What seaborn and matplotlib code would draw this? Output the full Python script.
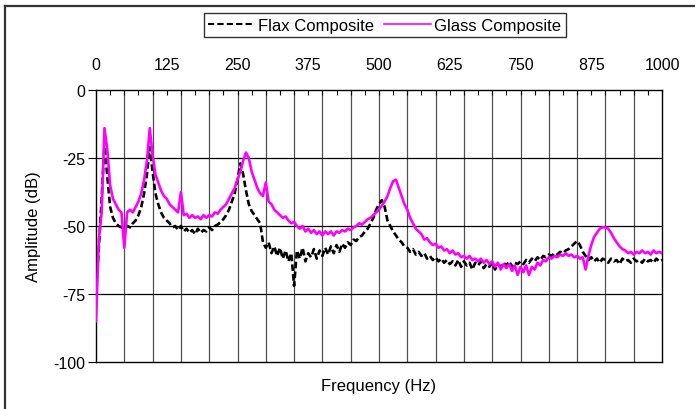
import numpy as np
import pandas as pd
import matplotlib
matplotlib.use("Agg")
import matplotlib.pyplot as plt
import seaborn as sns
from matplotlib.lines import Line2D

plt.rcParams['font.family'] = ['Liberation Sans', 'DejaVu Sans']
plt.rcParams['axes.unicode_minus'] = False

# ---------------- data ----------------
freq = np.arange(0, 1001, 5)  # Hz, sampling grid of the read-off spectra

flax = [
    -74, -58, -40, -19, -32, -43, -47, -49, -50, -50.5,          # 0-45
    -51, -50, -50.5, -49, -48, -46, -43, -38, -31, -21,          # 50-95
    -30, -38, -42, -45, -47, -48, -49, -50.5, -50, -51.5,        # 100-145
    -50, -52, -51, -52.5, -51.5, -53, -51, -52.5, -51.5, -52,    # 150-195
    -50.5, -51.5, -50, -49.5, -48.5, -47.5, -46, -44, -41, -38,  # 200-245
    -33, -27, -31, -37, -42, -44.5, -46, -47.5, -49, -56,        # 250-295
    -58, -56, -60, -57.5, -61, -58, -62, -59, -63, -60,          # 300-345
    -72, -59, -62, -58, -63, -60, -61.5, -58.5, -62, -59,        # 350-395
    -61, -58, -60.5, -57.5, -60, -57, -59.5, -56.5, -58, -56,    # 400-445
    -57, -55, -55.5, -54, -53.5, -52, -51, -49, -47, -44,        # 450-495
    -42, -40.5, -43, -48, -50, -52, -53.5, -55, -56, -57.5,      # 500-545
    -58, -59.5, -58.5, -60.5, -59.5, -61, -60, -62, -61, -62.5,  # 550-595
    -61.5, -63, -62, -63.5, -62.5, -64, -63, -64.5, -62.5, -65,  # 600-645
    -63, -64.5, -63.5, -66, -63.5, -64.5, -63, -65.5, -64, -65,  # 650-695
    -63.5, -66, -64, -65, -63.5, -64.5, -63, -65, -63.5, -64,    # 700-745
    -63, -64, -62.5, -63.5, -62, -63, -61.5, -62.5, -61, -61.5,  # 750-795
    -60.5, -61, -60, -60.5, -59.5, -60, -59, -58.5, -57.5, -56.5,  # 800-845
    -55.5, -57, -59.5, -61, -62.5, -61.5, -63, -62, -63.5, -62,  # 850-895
    -62.5, -63.5, -62, -63, -62.5, -64, -62, -63, -62.5, -63.5,  # 900-945
    -62, -63, -62.5, -63.5, -62, -63, -62.5, -63.5, -62, -63,    # 950-995
    -62.5,                                                       # 1000
]

glass = [
    -85, -55, -45, -14, -22, -35, -40, -42, -44, -45,            # 0-45
    -58, -45, -44, -45, -43, -41, -38, -33, -26, -14,            # 50-95
    -24, -31, -34, -37, -39, -40, -42, -43, -44, -45,            # 100-145
    -37.5, -46, -45.5, -47, -46, -47, -46.5, -47.5, -46, -47,    # 150-195
    -46, -46.5, -45, -45.5, -44, -43, -42, -40, -38, -36,        # 200-245
    -33, -30, -26, -23, -25, -30, -33, -36, -38, -39,            # 250-295
    -34, -41, -42, -44, -45, -46, -47, -46.5, -48, -49,          # 300-345
    -48.5, -50, -51, -50, -52, -51, -52.5, -51.5, -53, -52,      # 350-395
    -53.5, -52, -53, -52, -53.5, -52, -52.5, -51.5, -52, -51,    # 400-445
    -51.5, -50.5, -50, -49, -49.5, -48.5, -47.5, -47, -46, -45,  # 450-495
    -44, -42.5, -41, -39, -36, -33.5, -33, -36, -39, -42,        # 500-545
    -44, -47, -49, -51, -52, -53, -55, -54.5, -56, -57,          # 550-595
    -56.5, -58, -57.5, -59, -58.5, -60, -59, -60.5, -60, -61.5,  # 600-645
    -61, -62, -61, -62.5, -62, -63, -62, -63.5, -62.5, -64,      # 650-695
    -63, -65, -63.5, -66, -64, -65.5, -64, -66.5, -64.5, -68,    # 700-745
    -65, -67, -64.5, -68, -65, -66, -63.5, -64.5, -62.5, -63,    # 750-795
    -61.5, -62, -61, -61.5, -60.5, -61, -60, -61, -60.5, -61.5,  # 800-845
    -61, -62, -61.5, -66, -61, -57, -54, -52.5, -51, -50.5,      # 850-895
    -50.5, -51, -52.5, -54.5, -56, -57.5, -58.5, -59, -60, -59.5,  # 900-945
    -60.5, -59.5, -60, -59, -60, -59.5, -60.5, -59, -60, -59.5,  # 950-995
    -60,                                                         # 1000
]

series_names = ["Flax Composite", "Glass Composite"]
x_tick_values = [0, 125, 250, 375, 500, 625, 750, 875, 1000]
y_tick_values = [0, -25, -50, -75, -100]

df = pd.DataFrame({
    "Frequency": np.concatenate([freq, freq]),
    "Amplitude": np.concatenate([flax, glass]),
    "Series": [series_names[0]] * len(freq) + [series_names[1]] * len(freq),
})

# ---------------- figure ----------------
W, H = 695, 410
fig = plt.figure(figsize=(W / 100, H / 100), dpi=100)
ax = fig.add_axes([96 / W, 47 / H, 566 / W, 272 / H])

# grid lines
for v in range(50, 1000, 50):
    ax.axvline(v, color="#505050", lw=0.9, zorder=0)
for h in [-25, -50, -75]:
    ax.axhline(h, color="black", lw=0.9, zorder=0)

colors = {"Flax Composite": "black", "Glass Composite": "#FF00FF"}
dashes = {"Flax Composite": (2.5, 1.2), "Glass Composite": ""}
sns.lineplot(data=df, x="Frequency", y="Amplitude", hue="Series", style="Series",
             palette=colors, dashes=dashes, estimator=None, lw=1.9,
             legend=False, ax=ax, zorder=3)

ax.set_xlim(0, 1000)
ax.set_ylim(-100, 0)

# x axis on top
ax.xaxis.tick_top()
ax.set_xticks(x_tick_values)
ax.set_xticks(np.arange(0, 1001, 25), minor=True)
ax.tick_params(axis="x", which="both", direction="in", top=True, bottom=False,
               length=3.5, width=0.8, pad=13, labelsize=11.5)
ax.xaxis.set_label_position("bottom")
ax.set_xlabel("Frequency (Hz)", fontsize=12)
ax.xaxis.set_label_coords(0.5, -0.058)

ax.set_yticks(y_tick_values)
ax.tick_params(axis="y", direction="out", left=True, right=False, length=6,
               width=0.8, pad=2, labelsize=11.5)
ax.set_ylabel("Amplitude (dB)", fontsize=12)
ax.yaxis.set_label_coords(-0.097, 0.5)

for s in ax.spines.values():
    s.set_color("black")
    s.set_linewidth(1.0)

# legend
handles = [Line2D([], [], color="black", lw=1.5, ls=(0, (3, 1.5))),
           Line2D([], [], color="#FF00FF", lw=1.2)]
leg = fig.legend(handles, series_names, loc="center", bbox_to_anchor=(385 / W, 1 - 26 / H),
                 ncol=2, fontsize=12, frameon=True, fancybox=False, shadow=False,
                 handlelength=2.8, handletextpad=0.2, columnspacing=0.6,
                 borderpad=0.25, borderaxespad=0)
leg.get_frame().set_edgecolor("black")
leg.get_frame().set_linewidth(1.0)

# chart-area frame (left and top edges visible)
fig.add_artist(Line2D([5 / W, 5 / W], [0, 1 - 7 / H], transform=fig.transFigure,
                      color="#333333", lw=1.6))
fig.add_artist(Line2D([5 / W, 1], [1 - 7 / H, 1 - 7 / H], transform=fig.transFigure,
                      color="#333333", lw=1.6))

fig.savefig("out.png", dpi=100)
